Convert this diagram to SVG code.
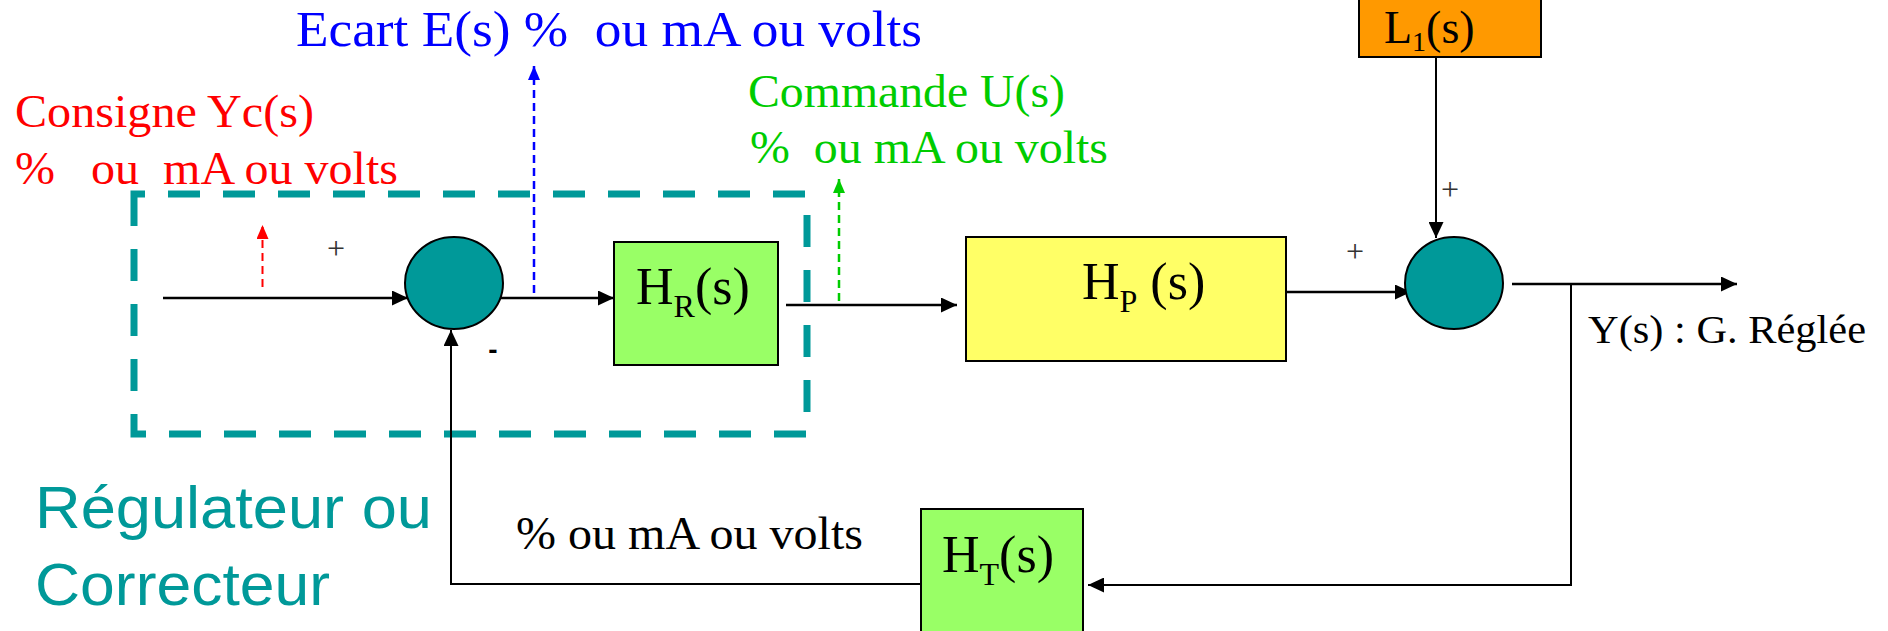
<svg xmlns="http://www.w3.org/2000/svg" width="1888" height="631" viewBox="0 0 1888 631">
  <style>
    .serif { font-family: "Liberation Serif", "Times New Roman", serif; }
    .sans { font-family: "Liberation Sans", Arial, sans-serif; }
    .box { stroke: #000; stroke-width: 2; }
    .sum { fill: #009999; stroke: #000; stroke-width: 2; }
    .lbl { font-family: "Liberation Serif", "Times New Roman", serif; font-size: 52px; fill: #000; }
    .sub { font-size: 32px; }
    .wire { fill: none; stroke: #000; stroke-width: 2.5; }
    .thin { fill: none; stroke: #000; stroke-width: 2; }
    .sign { font-family: "Liberation Serif", "Times New Roman", serif; font-size: 32px; fill: #333; }
  </style>
  <defs>
    <marker id="ah" markerUnits="userSpaceOnUse" markerWidth="16" markerHeight="15" refX="16" refY="7.5" orient="auto">
      <path d="M0,0 L16,7.5 L0,15 z" fill="#000"/>
    </marker>
    <marker id="ahR" markerUnits="userSpaceOnUse" markerWidth="14" markerHeight="12" refX="14" refY="6" orient="auto">
      <path d="M0,0 L14,6 L0,12 z" fill="#FF0000"/>
    </marker>
    <marker id="ahB" markerUnits="userSpaceOnUse" markerWidth="14" markerHeight="12" refX="14" refY="6" orient="auto">
      <path d="M0,0 L14,6 L0,12 z" fill="#0000FF"/>
    </marker>
    <marker id="ahG" markerUnits="userSpaceOnUse" markerWidth="14" markerHeight="12" refX="14" refY="6" orient="auto">
      <path d="M0,0 L14,6 L0,12 z" fill="#00CC00"/>
    </marker>
  </defs>
  <rect width="1888" height="631" fill="#fff"/>

  <!-- Regulator dashed frame -->
  <g id="regulateur-frame">
    <path d="M134,194 V434 H807 V194 Z" fill="none" stroke="#009999" stroke-width="7" stroke-dasharray="32 23"/>
  </g>

  <!-- Connectors -->
  <g id="connectors">
    <path class="wire" d="M163,298 H408" marker-end="url(#ah)"/>
    <path class="wire" d="M497,298 H614" marker-end="url(#ah)"/>
    <path class="wire" d="M786,305 H957" marker-end="url(#ah)"/>
    <path class="wire" d="M1285,292 H1411" marker-end="url(#ah)"/>
    <path class="thin" d="M1436,57 V238" marker-end="url(#ah)"/>
    <path class="wire" d="M1512,284 H1737" marker-end="url(#ah)"/>
    <path class="thin" d="M1571,284 V585 H1088" marker-end="url(#ah)"/>
    <path class="thin" d="M921,584 H451 V330" marker-end="url(#ah)"/>
    <path d="M262.5,287 V225" fill="none" stroke="#FF0000" stroke-width="2" stroke-dasharray="8 5" marker-end="url(#ahR)"/>
    <path d="M534,293 V66" fill="none" stroke="#0000FF" stroke-width="2.5" stroke-dasharray="8 5" marker-end="url(#ahB)"/>
    <path d="M839,301 V179" fill="none" stroke="#00CC00" stroke-width="2.5" stroke-dasharray="8 5" marker-end="url(#ahG)"/>
  </g>

  <!-- Summing junctions -->
  <g id="sum1">
    <ellipse class="sum" cx="454" cy="283" rx="49" ry="46"/>
  </g>
  <g id="sum2">
    <ellipse class="sum" cx="1454" cy="283" rx="49" ry="46"/>
  </g>

  <!-- Blocks -->
  <g id="HR">
    <rect class="box" x="614" y="242" width="164" height="123" fill="#99FF66"/>
    <text class="lbl" x="636" y="304">H<tspan class="sub" dy="13">R</tspan><tspan dy="-13">(s)</tspan></text>
  </g>
  <g id="HP">
    <rect class="box" x="966" y="237" width="320" height="124" fill="#FFFF66"/>
    <text class="lbl" x="1082" y="299">H<tspan class="sub" dy="13">P</tspan><tspan dy="-13">&#160;(s)</tspan></text>
  </g>
  <g id="L1">
    <rect class="box" x="1359" y="-5" width="182" height="62" fill="#FF9900"/>
    <text class="lbl" x="1384" y="43" font-size="46" style="font-size:46px">L<tspan dy="8" style="font-size:28px">1</tspan><tspan dy="-8">(s)</tspan></text>
  </g>
  <g id="HT">
    <rect class="box" x="921" y="509" width="162" height="130" fill="#99FF66"/>
    <text class="lbl" x="942" y="572">H<tspan class="sub" dy="13">T</tspan><tspan dy="-13">(s)</tspan></text>
  </g>

  <!-- Signs -->
  <g id="signs">
    <text class="sign" x="336" y="259" text-anchor="middle">+</text>
    <text x="493" y="359" text-anchor="middle" class="sans" font-size="28" font-weight="bold" fill="#000">-</text>
    <text class="sign" x="1355" y="262" text-anchor="middle">+</text>
    <text class="sign" x="1450" y="200" text-anchor="middle">+</text>
  </g>

  <!-- Labels -->
  <g id="labels" class="serif">
    <text x="296" y="46" font-size="51" fill="#0000FF" textLength="626" lengthAdjust="spacingAndGlyphs">Ecart E(s) %&#160; ou mA ou volts</text>
    <text x="15" y="127" font-size="46" fill="#FF0000" textLength="299" lengthAdjust="spacingAndGlyphs">Consigne Yc(s)</text>
    <text x="15" y="184" font-size="46" fill="#FF0000" textLength="383" lengthAdjust="spacingAndGlyphs">%&#160;&#160; ou&#160; mA ou volts</text>
    <text x="748" y="107" font-size="46" fill="#00CC00" textLength="317" lengthAdjust="spacingAndGlyphs">Commande U(s)</text>
    <text x="750" y="163" font-size="46" fill="#00CC00" textLength="358" lengthAdjust="spacingAndGlyphs">%&#160; ou mA ou volts</text>
    <text x="516" y="549" font-size="46" fill="#000" textLength="347" lengthAdjust="spacingAndGlyphs">% ou mA ou volts</text>
    <text x="1588" y="343" font-size="41" fill="#000" textLength="278" lengthAdjust="spacingAndGlyphs">Y(s) : G. Réglée</text>
  </g>
  <g id="regulateur-label" class="sans" fill="#009999">
    <text x="35" y="528" font-size="59" textLength="397" lengthAdjust="spacingAndGlyphs">Régulateur ou</text>
    <text x="35" y="605" font-size="59" textLength="295" lengthAdjust="spacingAndGlyphs">Correcteur</text>
  </g>
</svg>
